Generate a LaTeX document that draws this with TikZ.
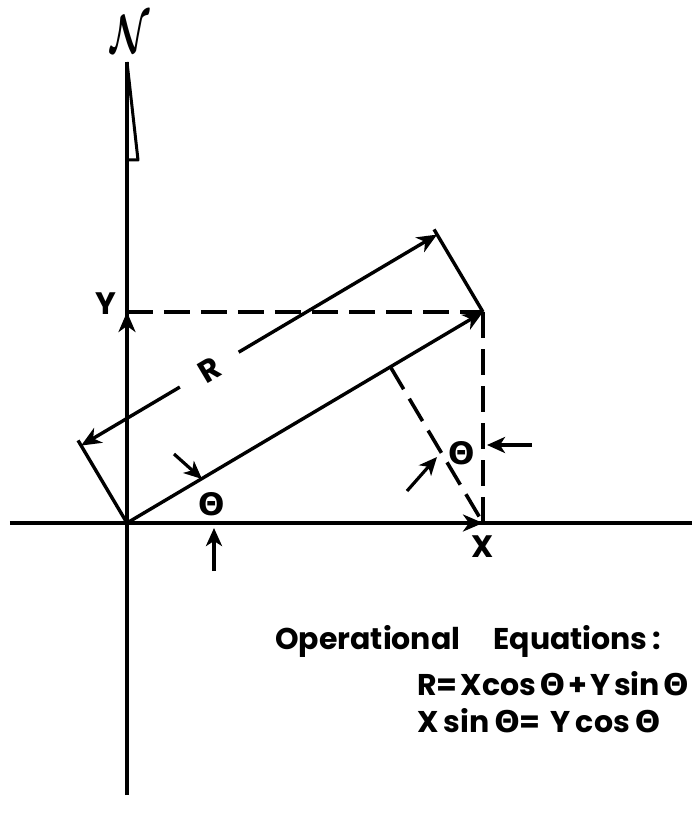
\documentclass[tikz,border=0pt]{standalone}
\usepackage{bm}
\usepackage{fontspec}
\setmainfont{Poppins}
\newfontfamily\grkfont{DejaVu Sans}
\usetikzlibrary{calc, arrows.meta}
\newcommand{\thetaglyph}{{\grkfont\bfseries Θ}}
\newcommand{\gap}{\hspace{0.11em}}

\begin{document}
\begin{tikzpicture}[
    x=10pt, y=10pt,
    axis/.style={line width=3.4pt},
    vec/.style={line width=3.4pt, -{Stealth[length=20pt, width=17pt, inset=6pt]}},
    proj/.style={line width=3.6pt, dash pattern=on 26pt off 11pt},
    pointer/.style={line width=3.2pt, -{Stealth[length=18pt, width=16pt, inset=5pt]}},
    lbl/.style={font=\fontsize{31}{36}\selectfont\bfseries, inner sep=0pt},
    eqn/.style={font=\fontsize{30}{36}\selectfont\bfseries, anchor=base west, inner sep=0pt}
  ]
  \useasboundingbox (-12.7,-30) rectangle (56.5,52.3);

  \coordinate (O) at (0,0);
  \coordinate (P) at (35.6,21.1);
  \coordinate (Y) at (0,21.1);
  \coordinate (X) at (35.6,0);
  \coordinate (ntop) at (0,46.1);
  \coordinate (nbot) at (0,-27.2);
  \coordinate (ewest) at (-11.7,0);
  \coordinate (eeast) at (56.5,0);
  \coordinate (flagtip) at (1.1,36.3);
  \coordinate (flagbase) at (0,36.3);
  \coordinate (F) at ($(O)!(X)!(P)$);
  \coordinate (E1) at ($(O)!96pt!90:(P)$);
  \coordinate (E2) at ($(P)!96pt!-90:(O)$);
  \coordinate (D1) at ($(O)!90pt!90:(P)$);
  \coordinate (D2) at ($(P)!90pt!-90:(O)$);

  \draw[axis] (nbot) -- (ntop);
  \draw[axis] (ewest) -- (eeast);
  \draw[line width=3pt, line join=round] (ntop) -- (flagtip) -- (flagbase);
  \node[xscale=3.6, yscale=5.4] (north) at (0.3,48.9) {$\bm{\mathcal{N}}$};

  \draw[vec] (O) -- (P);
  \draw[vec] (O) -- (Y);
  \draw[vec] (O) -- (X);
  \draw[proj] (Y) -- (P);
  \draw[proj] (P) -- (X);
  \draw[proj] (F) -- (X);

  \draw[axis] (O) -- (E1);
  \draw[axis] (P) -- (E2);
  \node[lbl, circle, minimum size=68pt, rotate=30.65] (R) at ($(D1)!0.36!(D2)$) {R};
  \draw[vec] (R) -- (D1);
  \draw[vec] (R) -- (D2);

  \node[lbl] (ylbl) at (-2.1,21.9) {Y};
  \node[lbl] (xlbl) at (35.6,-2.4) {X};

  \node[lbl] (th1) at (8.5,1.9) {\thetaglyph};
  \coordinate (a1s) at (4.7,6.9);
  \coordinate (a1e) at (7.5,4.4);
  \coordinate (a2s) at (8.7,-4.8);
  \coordinate (a2e) at (8.7,-0.5);
  \draw[pointer] (a1s) -- (a1e);
  \draw[pointer] (a2s) -- (a2e);

  \node[lbl] (th2) at (33.5,7.0) {\thetaglyph};
  \coordinate (b1s) at (40.5,7.8);
  \coordinate (b1e) at (36.0,7.8);
  \coordinate (b2s) at (28.0,3.2);
  \coordinate (b2e) at (31.0,6.6);
  \draw[pointer] (b1s) -- (b1e);
  \draw[pointer] (b2s) -- (b2e);

  \node[eqn] (ophead) at (14.8,-12.6) {Operational\hspace{1.1em}Equations\,:};
  \node[eqn] (eq1) at (29.0,-17.2) {R=\gap Xcos\gap\thetaglyph\gap+\gap Y\gap sin\gap\thetaglyph};
  \node[eqn] (eq2) at (29.0,-20.9) {X\,sin\,\thetaglyph=\,\,Y\,cos\,\thetaglyph};
\end{tikzpicture}
\end{document}
